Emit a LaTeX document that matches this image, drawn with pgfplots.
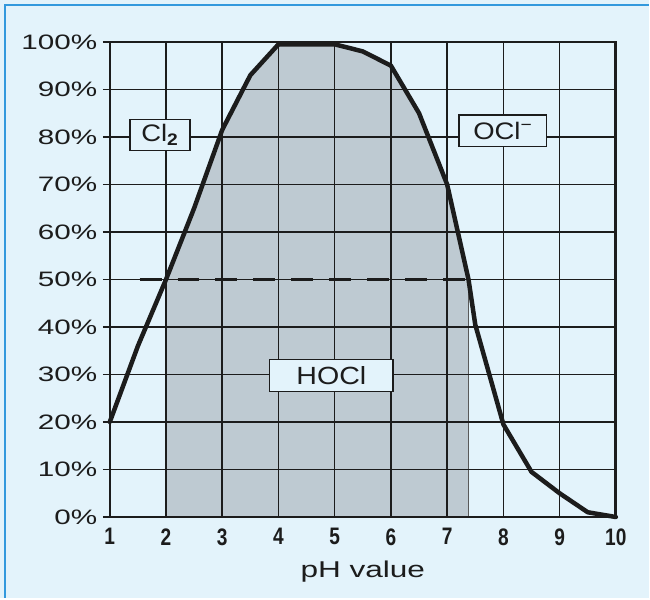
\documentclass[border=0pt]{standalone}
\usepackage{fontspec}
\setmainfont{Liberation Sans}
\newfontfamily\ylabfont[FakeStretch=1.42]{Liberation Sans}
\newfontfamily\titfont[FakeStretch=1.38]{Liberation Sans}
\newfontfamily\xlabfont[FakeStretch=0.8]{Liberation Sans}
\newfontfamily\boxfont[FakeStretch=1.15]{Liberation Sans}
\usepackage{pgfplots}
\pgfplotsset{compat=1.18}
\definecolor{bgblue}{HTML}{E3F3FB}
\definecolor{borderblue}{HTML}{3399DD}
\definecolor{fillgray}{HTML}{BECAD2}
\definecolor{inkk}{HTML}{1C1C1C}
\begin{document}
\begin{tikzpicture}
\begin{axis}[
  at={(0,0)}, anchor=south west,
  scale only axis, width=507bp, height=476bp,
  set layers,
  xmin=1, xmax=10, ymin=0, ymax=100,
  xtick={1,...,10}, ytick={0,10,...,100},
  xticklabels={1,2,3,4,5,6,7,8,9,10},
  yticklabels={0\%,10\%,20\%,30\%,40\%,50\%,60\%,70\%,80\%,90\%,100\%},
  ytick pos=left,
  grid=major,
  major grid style={inkk, line width=1.6bp},
  axis line style={inkk, line width=1.6bp},
  tick style={inkk, line width=1.6bp},
  tick align=outside,
  major tick length=7bp,
  xtick style={draw=none},
  yticklabel style={font=\ylabfont\fontsize{21}{22}\selectfont, text=inkk, xshift=-2bp},
  xticklabel style={font=\xlabfont\bfseries\fontsize{24}{26}\selectfont, text=inkk, yshift=-1bp},
  xlabel={pH value},
  xlabel style={font=\titfont\fontsize{23}{26}\selectfont, text=inkk, yshift=-9bp},
  clip=false,
]
\begin{pgfonlayer}{axis background}
\fill[bgblue] ([xshift=-110bp,yshift=-81bp]rel axis cs:0,0) rectangle ([xshift=540bp,yshift=42bp]rel axis cs:0,1);
\draw[borderblue, line width=2.5bp] ([xshift=-105bp,yshift=-81bp]rel axis cs:0,0) -- ([xshift=-105bp,yshift=37bp]rel axis cs:0,1) -- ([xshift=540bp,yshift=37bp]rel axis cs:0,1);
\end{pgfonlayer}
% shaded HOCl region
\addplot[on layer=axis background, draw=none, fill=fillgray] coordinates {
  (2,0) (2,50) (2.5,65) (3,81.5) (3.5,93) (4,99.5) (5,99.5) (5.5,98) (6,95)
  (6.5,85) (7,70) (7.38,50) (7.38,0)} -- cycle;
\addplot[on layer=axis background, draw=gray!70!black, line width=1bp] coordinates {(7.38,0) (7.38,50)};
% 50% dashed line
\addplot[inkk, line width=2.2bp, dash pattern=on 22bp off 16bp] coordinates {(1.53,50) (7.57,50)};
% curve
\addplot[inkk, line width=4.5bp, line join=round, line cap=round] coordinates {
  (1,20) (1.5,36) (2,50) (2.5,65) (3,81.5) (3.5,93) (4,99.5) (5,99.5) (5.5,98)
  (6,95) (6.5,85) (7,70) (7.38,50) (7.5,40.5) (8,19.5) (8.5,9.5) (9,5) (9.5,1) (10,0)};
% right frame line, slightly heavier as in the reference
\draw[inkk, line width=3bp] (axis cs:10,0) -- (axis cs:10,100);
% labels
\node[draw=inkk, fill=bgblue, line width=1.5bp, minimum width=60bp, minimum height=31bp, inner sep=0pt,
      font=\boxfont\fontsize{24}{25}\selectfont, text=inkk] at (axis cs:1.89,80.4) {Cl\textsubscript{\bfseries 2}};
\node[draw=inkk, fill=bgblue, line width=1.5bp, minimum width=88bp, minimum height=32bp, inner sep=0pt,
      font=\boxfont\fontsize{24}{25}\selectfont, text=inkk] at (axis cs:7.99,81.3) {OCl\textsuperscript{\char"2212}};
\node[draw=inkk, fill=bgblue, line width=1.5bp, minimum width=124bp, minimum height=32bp, inner sep=0pt,
      font=\boxfont\fontsize{25}{27}\selectfont, text=inkk] at (axis cs:4.94,29.8) {HOCl};
\end{axis}
\end{tikzpicture}
\end{document}
